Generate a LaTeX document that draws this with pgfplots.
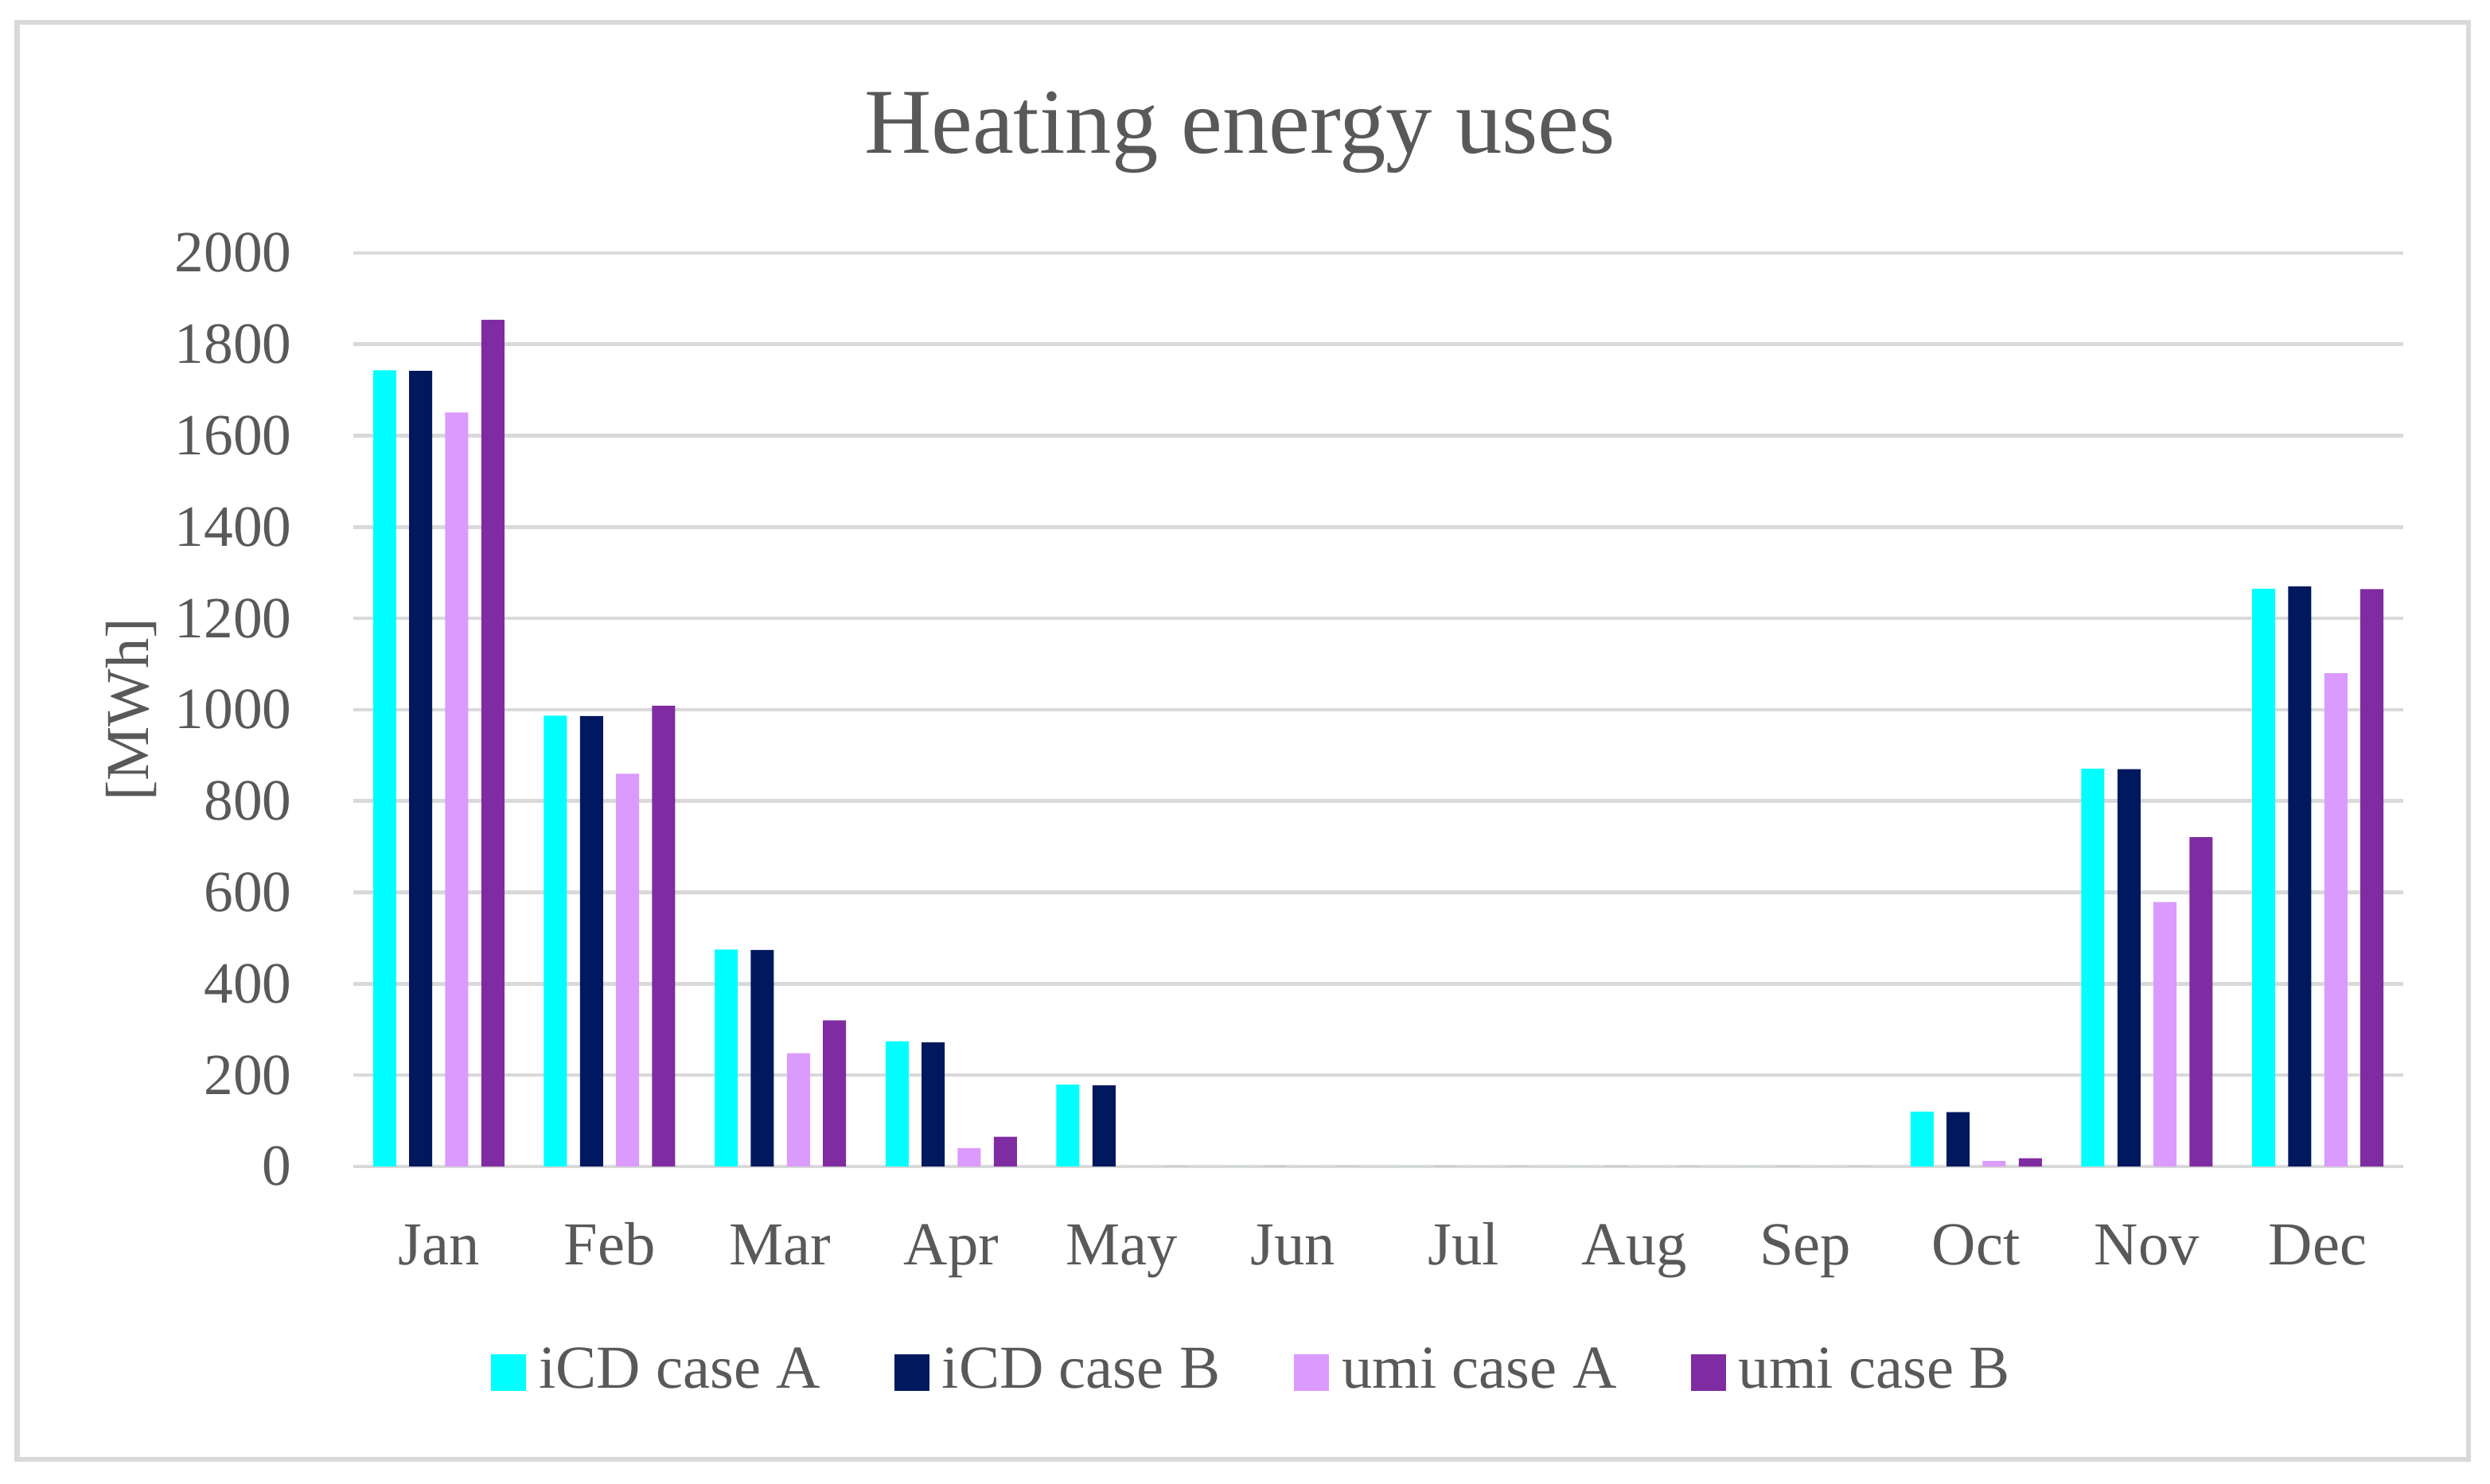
\documentclass[border=0pt]{standalone}
\usepackage{fontspec}
\setmainfont{Liberation Serif}
\usepackage{pgfplots}
\pgfplotsset{compat=1.18}
\definecolor{txt}{HTML}{595959}
\definecolor{gridc}{HTML}{D9D9D9}
\definecolor{cA}{HTML}{00FFFF}
\definecolor{cB}{HTML}{00185E}
\definecolor{uA}{HTML}{DA9BFC}
\definecolor{uB}{HTML}{7F2BA1}
\begin{document}
\begin{tikzpicture}
\useasboundingbox (-66.6pt,-59.85pt) rectangle (402.75pt,219.9pt);
\draw[color=gridc, line width=1pt] (-63.4pt,-55.2pt) rectangle (398.7pt,215.7pt);
\begin{axis}[
  at={(0pt,0pt)}, anchor=south west,
  scale only axis, width=386.4pt, height=172.2pt,
  ybar=2.45pt, bar width=4.35pt,
  xmin=-0.5, xmax=11.5, ymin=0, ymax=2000,
  xtick={0,...,11},
  xticklabels={Jan,Feb,Mar,Apr,May,Jun,Jul,Aug,Sep,Oct,Nov,Dec},
  ytick={0,200,...,2000},
  scaled y ticks=false,
  /pgf/number format/1000 sep={},
  /pgf/number format/assume math mode=true,
  axis line style={draw=none},
  major tick length=0pt,
  ymajorgrids,
  grid style={color=gridc, line width=0.7pt},
  tick label style={font=\fontsize{11}{13}\selectfont, text=txt},
  xticklabel style={anchor=base, yshift=-18.6pt, font=\fontsize{11.5}{13}\selectfont},
  yticklabel style={anchor=east, inner sep=0pt, xshift=-11.4pt},
  ylabel={[MWh]},
  ylabel style={at={(axis description cs:-0.1083,0.5)}, anchor=center, font=\fontsize{11.5}{13}\selectfont, text=txt},
  title={Heating energy uses},
  every axis title shift=0pt,
  title style={at={(axis description cs:0.4325,1)}, anchor=base, yshift=18.75pt, font=\fontsize{17.5}{20}\selectfont, text=txt},
  legend columns=4,
  legend style={at={(0.4376,-0.2247)}, anchor=center, draw=none, fill=none,
    font=\fontsize{11.5}{13}\selectfont, text=txt,
    nodes={inner xsep=0pt},
    /tikz/every odd column/.append style={column sep=2.4pt},
    /tikz/every even column/.append style={column sep=14pt}},
  legend image code/.code={\fill[#1] (0pt,-3.6pt) rectangle (6.6pt,3.3pt);},
]
\addplot[fill=cA, draw=none] coordinates {(0,1743) (1,987) (2,475) (3,274) (4,179) (5,0) (6,0) (7,0) (8,0) (9,120) (10,871) (11,1265)};
\addplot[fill=cB, draw=none] coordinates {(0,1742) (1,986) (2,474) (3,272) (4,178) (5,0) (6,0) (7,0) (8,0) (9,119) (10,870) (11,1270)};
\addplot[fill=uA, draw=none] coordinates {(0,1651) (1,860) (2,248) (3,40) (4,0) (5,0) (6,0) (7,0) (8,0) (9,12) (10,579) (11,1080)};
\addplot[fill=uB, draw=none] coordinates {(0,1854) (1,1009) (2,320) (3,65) (4,0) (5,0) (6,0) (7,0) (8,0) (9,18) (10,721) (11,1264)};
\legend{iCD case A, iCD case B, umi case A, umi case B}
\end{axis}
\end{tikzpicture}
\end{document}
